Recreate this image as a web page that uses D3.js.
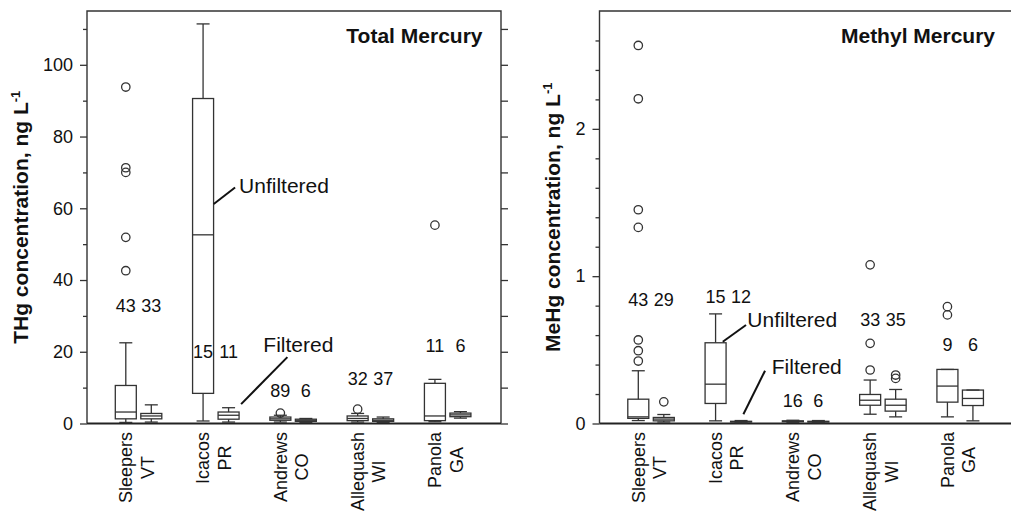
<!DOCTYPE html>
<html>
<head>
<meta charset="utf-8">
<script src="https://cdn.jsdelivr.net/npm/d3@7"></script>
<style>
  body { margin: 0; background: #fff; }
  text { font-family: "Liberation Sans", Arial, sans-serif; fill: #111; }
</style>
</head>
<body>
<svg id="chart" width="1011" height="512"></svg>
<script>
"use strict";

// sites along the x axis (two lines per label)
var sites = ["Sleepers", "Icacos", "Andrews", "Allequash", "Panola"];
var states = ["VT", "PR", "CO", "WI", "GA"];

// box stats: [low whisker, q1, median, q3, high whisker]
var thgUnfiltered = [[0.3, 1.3, 3.2, 10.6, 22.5], [0.7, 8.4, 52.6, 90.6, 111.4], [0.4, 0.9, 1.3, 1.8, 2.3], [0.4, 0.8, 1.4, 2.1, 2.8], [0.5, 0.8, 2.1, 11.2, 12.3]];
var thgFiltered = [[0.4, 1.3, 2.1, 2.8, 5.2], [0.4, 1.2, 2.3, 3.2, 4.4], [0.3, 0.6, 0.9, 1.2, 1.4], [0.3, 0.6, 0.9, 1.3, 1.8], [1.5, 1.9, 2.4, 2.9, 3.3]];
var thgUnfOutliers = [[93.8, 71.3, 70, 51.9, 42.6], [], [2.9], [4.0], [55.3]];
var thgFiltOutliers = [[], [], [], [], []];
var thgCounts = [[43, 33], [15, 11], [89, 6], [32, 37], [11, 6]];
var thgCountLevel = [31.2, 18.3, 7.4, 10.7, 20];
var thgMajorTicks = [0, 20, 40, 60, 80, 100];
var thgMinorTicks = [10, 30, 50, 70, 90, 110];

var mehgUnfiltered = [[0.02, 0.035, 0.045, 0.165, 0.358], [0.018, 0.136, 0.267, 0.548, 0.744], [0.008, 0.012, 0.015, 0.018, 0.022], [0.063, 0.124, 0.158, 0.197, 0.295], [0.045, 0.145, 0.254, 0.367, 0.367]];
var mehgFiltered = [[0.01, 0.018, 0.03, 0.041, 0.061], [0.005, 0.01, 0.012, 0.015, 0.02], [0.006, 0.01, 0.012, 0.015, 0.02], [0.045, 0.084, 0.124, 0.165, 0.231], [0.018, 0.122, 0.17, 0.227, 0.227]];
var mehgUnfOutliers = [[2.566, 2.204, 1.451, 1.331, 0.567, 0.494, 0.424], [], [], [0.363, 0.544, 1.077], [0.737, 0.793]];
var mehgFiltOutliers = [[0.147], [], [], [0.306, 0.329], []];
var mehgCounts = [[43, 29], [15, 12], [16, 6], [33, 35], [9, 6]];
var mehgCountLevel = [0.80, 0.82, 0.109, 0.66, 0.494];
var mehgMajorTicks = [0, 1, 2];
var mehgMinorTicks = [0.2, 0.4, 0.6, 0.8, 1.2, 1.4, 1.6, 1.8, 2.2, 2.4, 2.6];

var svg = d3.select("#chart");
var plotTop = 11, plotBottom = 423.5;

function drawPanel(p) {
  var x = d3.scaleLinear().domain([0.333, 5.69]).range([p.left, p.left + 414]);
  var y = d3.scaleLinear().domain(p.yDomain).range([plotBottom, plotTop]);
  var g = svg.append("g");
  var off = 0.165, bw = 21, cap = 13;

  // frame
  g.append("path")
    .attr("d", "M" + x.range()[0] + "," + plotBottom + "V" + plotTop + "H" + x.range()[1] + "V" + plotBottom)
    .attr("fill", "none").attr("stroke", "#333").attr("stroke-width", 1.4);

  // left axis
  g.append("g").attr("transform", "translate(" + x.range()[0] + ",0)")
    .call(d3.axisLeft(y).tickValues(p.major).tickSize(7).tickPadding(7).tickFormat(d3.format("d")))
    .call(function(a) {
      a.select(".domain").remove();
      a.selectAll("line").attr("stroke", "#333").attr("stroke-width", 1.3);
      a.selectAll("text").style("font-size", "18px").attr("fill", "#111").style("font-family", "Liberation Sans, Arial, sans-serif");
    });
  g.append("g").attr("transform", "translate(" + x.range()[0] + ",0)")
    .call(d3.axisLeft(y).tickValues(p.minor).tickSize(4).tickFormat(""))
    .call(function(a) {
      a.select(".domain").remove();
      a.selectAll("line").attr("stroke", "#333").attr("stroke-width", 1.3);
    });
  // right side ticks
  g.append("g").attr("transform", "translate(" + x.range()[1] + ",0)")
    .call(d3.axisRight(y).tickValues(p.major.concat(p.minor)).tickSize(7).tickFormat(""))
    .call(function(a) {
      a.select(".domain").remove();
      a.selectAll("line").attr("stroke", "#333").attr("stroke-width", 1.3);
    });

  // zero line
  g.append("line")
    .attr("x1", x.range()[0]).attr("x2", x.range()[1])
    .attr("y1", y(0)).attr("y2", y(0))
    .attr("stroke", "#222").attr("stroke-width", 2.2);

  function boxes(stats, outliers, shift) {
    var b = g.append("g").selectAll("g").data(stats).enter().append("g")
      .attr("stroke", "#333").attr("stroke-width", 1.3).attr("fill", "none");
    b.append("line")
      .attr("x1", function(d, i) { return x(i + 1 + shift); })
      .attr("x2", function(d, i) { return x(i + 1 + shift); })
      .attr("y1", function(d) { return y(d[0]); })
      .attr("y2", function(d) { return y(d[4]); });
    b.append("rect")
      .attr("x", function(d, i) { return x(i + 1 + shift) - bw / 2; })
      .attr("width", bw)
      .attr("y", function(d) { return y(d[3]); })
      .attr("height", function(d) { return Math.max(0.5, y(d[1]) - y(d[3])); })
      .attr("fill", "#fff");
    b.append("line")
      .attr("x1", function(d, i) { return x(i + 1 + shift) - bw / 2; })
      .attr("x2", function(d, i) { return x(i + 1 + shift) + bw / 2; })
      .attr("y1", function(d) { return y(d[2]); })
      .attr("y2", function(d) { return y(d[2]); });
    [0, 4].forEach(function(k) {
      b.append("line")
        .attr("x1", function(d, i) { return x(i + 1 + shift) - cap / 2; })
        .attr("x2", function(d, i) { return x(i + 1 + shift) + cap / 2; })
        .attr("y1", function(d) { return y(d[k]); })
        .attr("y2", function(d) { return y(d[k]); });
    });
    b.selectAll("circle").data(function(d, i) { return outliers[i].map(function(v) { return [i, v]; }); })
      .enter().append("circle")
      .attr("cx", function(d) { return x(d[0] + 1 + shift); })
      .attr("cy", function(d) { return y(d[1]); })
      .attr("r", 4.2)
      .attr("fill", "none");
  }
  boxes(p.unf, p.unfOut, -off);
  boxes(p.filt, p.filtOut, off);

  // sample counts
  p.counts.forEach(function(c, i) {
    [0, 1].forEach(function(k) {
      g.append("text")
        .attr("x", x(i + 1 + (k ? off : -off)))
        .attr("y", y(p.countLevel[i]))
        .attr("text-anchor", "middle")
        .style("font-size", "18px")
        .text(c[k]);
    });
  });

  // leader labels
  p.notes.forEach(function(n) {
    g.append("line")
      .attr("x1", x(n.x1)).attr("y1", y(n.y1))
      .attr("x2", x(n.x2)).attr("y2", y(n.y2))
      .attr("stroke", "#111").attr("stroke-width", 2);
    g.append("text")
      .attr("x", x(n.tx)).attr("y", y(n.ty))
      .style("font-size", "21px")
      .text(n.label);
  });

  // site labels, rotated, two lines centred in a block
  sites.forEach(function(s, i) {
    var lg = g.append("g")
      .attr("transform", "translate(" + x(i + 1) + "," + 432 + ") rotate(-90)");
    var t1 = lg.append("text").attr("y", -6.5).style("font-size", "18px").attr("text-anchor", "middle").text(s);
    var t2 = lg.append("text").attr("y", 15).style("font-size", "18px").attr("text-anchor", "middle").text(states[i]);
    var L = Math.max(t1.node().getComputedTextLength(), t2.node().getComputedTextLength());
    t1.attr("x", -L / 2);
    t2.attr("x", -L / 2);
  });

  // panel title
  g.append("text")
    .attr("x", x.range()[1] - 18.5).attr("y", 43)
    .attr("text-anchor", "end")
    .style("font-size", "21px").style("font-weight", "bold")
    .text(p.title);

  // y axis title
  var yt = g.append("text")
    .attr("transform", "translate(" + p.titleX + "," + ((plotTop + plotBottom) / 2) + ") rotate(-90)")
    .attr("text-anchor", "middle")
    .style("font-size", "21px").style("font-weight", "bold");
  yt.append("tspan").text(p.yTitle + " concentration, ng L");
  yt.append("tspan").attr("dy", -8).style("font-size", "13px").text("-1");
}

drawPanel({
  left: 87, yDomain: [0, 115], major: thgMajorTicks, minor: thgMinorTicks,
  unf: thgUnfiltered, filt: thgFiltered, unfOut: thgUnfOutliers, filtOut: thgFiltOutliers,
  counts: thgCounts, countLevel: thgCountLevel,
  title: "Total Mercury", yTitle: "THg", titleX: 28.3,
  notes: [
    { label: "Unfiltered", x1: 1.973, y1: 61.2, x2: 2.249, y2: 65.8, tx: 2.301, ty: 64.4 },
    { label: "Filtered", x1: 2.327, y1: 5.4, x2: 2.926, y2: 18.5, tx: 2.615, ty: 19.9 }
  ]
});

drawPanel({
  left: 599.5, yDomain: [0, 2.8], major: mehgMajorTicks, minor: mehgMinorTicks,
  unf: mehgUnfiltered, filt: mehgFiltered, unfOut: mehgUnfOutliers, filtOut: mehgFiltOutliers,
  counts: mehgCounts, countLevel: mehgCountLevel,
  title: "Methyl Mercury", yTitle: "MeHg", titleX: 560,
  notes: [
    { label: "Unfiltered", x1: 1.928, y1: 0.555, x2: 2.229, y2: 0.669, tx: 2.246, ty: 0.652 },
    { label: "Filtered", x1: 2.195, y1: 0.063, x2: 2.475, y2: 0.358, tx: 2.562, ty: 0.333 }
  ]
});
</script>
</body>
</html>
